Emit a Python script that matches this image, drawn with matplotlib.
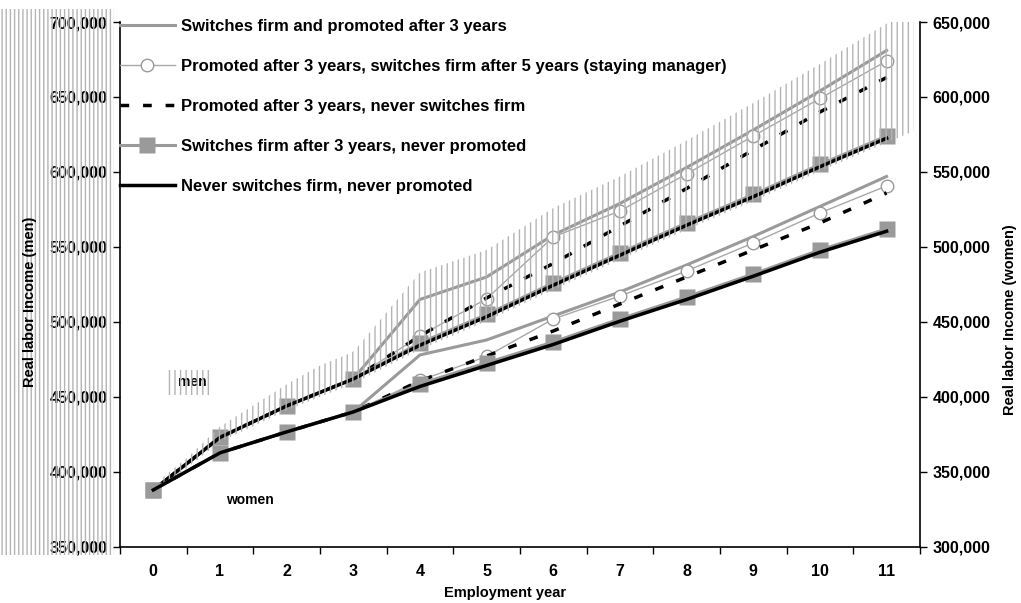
import numpy as np
import matplotlib
matplotlib.use('Agg')
import matplotlib.pyplot as plt
import matplotlib.ticker as ticker
from matplotlib.patches import Rectangle

FONT = ['Liberation Sans Narrow', 'Liberation Sans', 'DejaVu Sans']
plt.rcParams['font.family'] = FONT
plt.rcParams['font.weight'] = 'bold'
plt.rcParams['hatch.linewidth'] = 1.0

years = np.arange(12)
labels = ['Switches firm and promoted after 3 years',
          'Promoted after 3 years, switches firm after 5 years (staying manager)',
          'Promoted after 3 years, never switches firm',
          'Switches firm after 3 years, never promoted',
          'Never switches firm, never promoted']

# men, left axis (thousands)
men_top = [388, 423, 444, 462, 515, 530, 558, 579, 603, 628, 654, 681]
men_circ = [388, 423, 444, 462, 490.7, 515.5, 556.7, 574, 598.7, 624, 649, 674]
men_dash = [388, 423, 444, 462, 490.7, 516, 539, 564, 589, 614.7, 640, 663]
men_sq = [388, 423, 444, 462, 486, 505, 526, 546, 566, 585, 605, 624]
men_base = [388, 423, 444, 462, 484.5, 503.5, 524.5, 544.5, 564.5, 583.5, 603.5, 622.5]

# women, right axis (thousands)
w_top = [338, 362.7, 376.7, 390, 428, 438, 454, 470, 488, 507, 527, 547]
w_circ = [338, 362.7, 376.7, 390, 411, 427, 452, 467.3, 484, 502.7, 522.7, 540.7]
w_dash = [338, 362.7, 376.7, 390, 410.7, 427.3, 444, 462, 480, 498, 516, 536]
w_sq = [338, 362.7, 376.7, 390, 408.7, 422.7, 436.7, 452, 466.7, 482, 498, 512]
w_base = [338, 362.7, 376.7, 390, 407, 421, 435, 450.5, 465, 480.5, 496.5, 510.5]

men = [np.array(s) * 1000 for s in (men_top, men_circ, men_dash, men_sq, men_base)]
women = [np.array(s) * 1000 for s in (w_top, w_circ, w_dash, w_sq, w_base)]

GRAY = '#9a9a9a'
HATCH = '#b4b4b4'
styles = [
    dict(color=GRAY, lw=2.2),
    dict(color='#a8a8a8', lw=1.0, marker='o', ms=9, mfc='white', mec=GRAY, mew=1),
    dict(color='black', lw=2.5, ls=(0, (2.5, 4))),
    dict(color=GRAY, lw=2.2, marker='s', ms=12, mfc=GRAY, mec='none'),
    dict(color='black', lw=2.5),
]

fig = plt.figure(figsize=(10.21, 6.03), dpi=100)
ax = fig.add_axes([0.1175, 0.093, 0.7835, 0.8705])
ax2 = ax.twinx()

# hatched decorations
fig.patches.append(Rectangle((0.0, 0.08), 0.112, 0.905, transform=fig.transFigure,
                             facecolor='none', edgecolor=HATCH, hatch='||||', lw=0))
fig.patches.append(Rectangle((0.1616, 0.345), 0.047, 0.041, transform=fig.transFigure,
                             facecolor='none', edgecolor=HATCH, hatch='|||', lw=0))

handles = []
for s, st in zip(men, styles):
    h, = ax.plot(years, s, zorder=2, **st)
    handles.append(h)
for s, st in zip(women, styles):
    ax2.plot(years, s, zorder=2, **st)

# hatched band around the men's lines
xs = np.linspace(0.15, 11.4, 200)
slope_top = men[0][-1] - men[0][-2]
slope_low = men[4][-1] - men[4][-2]
top_i = np.where(xs <= 11, np.interp(xs, years, men[0]), men[0][-1] + (xs - 11) * slope_top)
low_i = np.where(xs <= 11, np.interp(xs, years, men[4]), men[4][-1] + (xs - 11) * slope_low)
pad = 18000 * np.clip(xs / 2.5, 0.2, 1)
ax.fill_between(xs, low_i - 3000, top_i + pad, facecolor='none', edgecolor=HATCH,
                hatch='|||', lw=0, zorder=3)

ax.set_xlim(-0.5, 11.5)
ax.set_ylim(350000, 700000)
ax2.set_ylim(300000, 650000)
ax.yaxis.set_major_locator(ticker.MultipleLocator(50000))
ax2.yaxis.set_major_locator(ticker.MultipleLocator(50000))
fmt = ticker.FuncFormatter(lambda v, p: f'{v:,.0f}')
ax.yaxis.set_major_formatter(fmt)
ax2.yaxis.set_major_formatter(fmt)

ax.set_xticks(years)
ax.set_xticks(np.arange(-0.5, 12, 1), minor=True)
ax.tick_params(axis='x', which='major', length=0, pad=12, labelsize=11.5)
ax.tick_params(axis='x', which='minor', length=5, width=1, direction='out')
ax.tick_params(axis='y', length=5, width=1, direction='out', labelsize=11.5, pad=4)
ax2.tick_params(axis='y', length=5, width=1, direction='out', labelsize=11.5, pad=4)

for a in (ax, ax2):
    a.spines['top'].set_visible(False)
    for sp in a.spines.values():
        sp.set_linewidth(1.2)
ax2.spines['left'].set_visible(False)
ax2.spines['bottom'].set_visible(False)
ax.spines['right'].set_visible(False)

for t in ax.get_xticklabels() + ax.get_yticklabels() + ax2.get_yticklabels():
    t.set_fontweight('bold')

ax.text(0.091, 0.314, 'men', transform=ax.transAxes, fontsize=10, fontweight='bold',
        ha='center', va='center', zorder=6)
ax.text(0.163, 0.09, 'women', transform=ax.transAxes, fontsize=10, fontweight='bold',
        ha='center', va='center')

fig.text(0.495, 0.005, 'Employment year', ha='center', va='bottom', fontsize=10.5,
         fontweight='bold')
fig.text(0.029, 0.50, 'Real labor Income (men)', rotation=90, ha='center', va='center',
         fontsize=10.5, fontweight='bold')
fig.text(0.989, 0.47, 'Real labor Income (women)', rotation=90, ha='center', va='center',
         fontsize=10.5, fontweight='bold')

leg = ax.legend(handles, labels, loc='upper left', bbox_to_anchor=(0.0, 1.006),
                frameon=False, fontsize=12, borderpad=0, borderaxespad=0,
                handlelength=3.3, handletextpad=0.35, labelspacing=1.5)
for t in leg.get_texts():
    t.set_fontweight('bold')
leg.set_zorder(5)

fig.savefig('out.png', dpi=100)
